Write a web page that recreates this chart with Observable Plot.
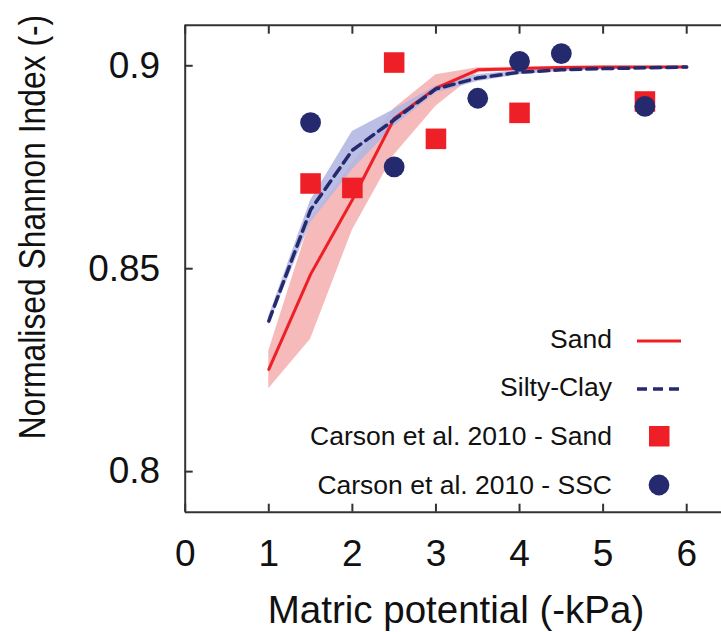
<!DOCTYPE html>
<html>
<head>
<meta charset="utf-8">
<script src="https://cdn.jsdelivr.net/npm/d3@7"></script>
<script src="https://cdn.jsdelivr.net/npm/@observablehq/plot@0.6"></script>
<style>
  html, body { margin: 0; padding: 0; background: #fff; overflow: hidden; }
  #chart { width: 721px; height: 632px; overflow: hidden; }
  #chart svg { display: block; max-width: none !important; width: 730px !important; height: 632px !important; }
</style>
</head>
<body>
<div id="chart"></div>
<script>
// ---- data ----
const potential = [1, 1.5, 2, 2.5, 3, 3.5, 4, 4.5, 5, 5.5, 6];
const sandMean  = [0.8252, 0.8486, 0.8670, 0.8870, 0.8945, 0.8990, 0.8993, 0.8996, 0.8997, 0.8997, 0.8997];
const sandLow   = [0.8204, 0.8326, 0.8595, 0.8780, 0.8900, 0.8982, 0.8990, 0.8993, 0.8994, 0.8995, 0.8995];
const sandHigh  = [0.8297, 0.8620, 0.8760, 0.8895, 0.8978, 0.8995, 0.8997, 0.8999, 0.8999, 0.8999, 0.8999];
const clayMean  = [0.8371, 0.8645, 0.8792, 0.8867, 0.8943, 0.8970, 0.8984, 0.8990, 0.8993, 0.8995, 0.8997];
const clayLow   = [0.8360, 0.8613, 0.8744, 0.8851, 0.8933, 0.8961, 0.8978, 0.8986, 0.8990, 0.8993, 0.8995];
const clayHigh  = [0.8382, 0.8668, 0.8838, 0.8892, 0.8950, 0.8978, 0.8989, 0.8993, 0.8995, 0.8997, 0.8999];

const carsonSandX = [1.5, 2, 2.5, 3, 4, 5.5];
const carsonSandY = [0.8710, 0.8699, 0.9008, 0.8820, 0.8884, 0.8912];
const carsonSscX  = [1.5, 2.5, 3.5, 4, 4.5, 5.5];
const carsonSscY  = [0.8860, 0.8751, 0.8920, 0.9011, 0.9030, 0.8900];

const xTicks = [0, 1, 2, 3, 4, 5, 6];
const yTicks = [0.8, 0.85, 0.9];
const xDomain = [0, 6.5];
const yDomain = [0.79, 0.91];

const xLabel = "Matric potential (-kPa)";
const yLabel = "Normalised Shannon Index (-)";
const legendLabels = ["Sand", "Silty-Clay", "Carson et al. 2010 - Sand", "Carson et al. 2010 - SSC"];

// ---- tables ----
const sand = potential.map((x, i) => ({x, mean: sandMean[i], lo: sandLow[i], hi: sandHigh[i]}));
const clay = potential.map((x, i) => ({x, mean: clayMean[i], lo: clayLow[i], hi: clayHigh[i]}));
const obsSand = carsonSandX.map((x, i) => ({x, y: carsonSandY[i]}));
const obsSsc = carsonSscX.map((x, i) => ({x, y: carsonSscY[i]}));

const RED = "#ee1f26";
const NAVY = "#252a6f";
const FONT = "'Liberation Sans', Arial, Helvetica, sans-serif";

const plot = Plot.plot({
  width: 730,
  height: 632,
  marginLeft: 184.7,
  marginRight: 2,
  marginTop: 24.7,
  marginBottom: 120.3,
  style: {fontFamily: FONT, background: "white", color: "#111"},
  x: {domain: xDomain},
  y: {domain: yDomain},
  marks: [
    Plot.areaY(sand, {x: "x", y1: "lo", y2: "hi", fill: "#f6b3b3", fillOpacity: 0.9}),
    Plot.areaY(clay, {x: "x", y1: "lo", y2: "hi", fill: "#b2b6e2", fillOpacity: 0.88}),
    Plot.line(sand, {x: "x", y: "mean", stroke: RED, strokeWidth: 3}),
    Plot.line(clay, {x: "x", y: "mean", stroke: NAVY, strokeWidth: 3.5, strokeDasharray: "10,6"}),
    Plot.dot(obsSand, {x: "x", y: "y", symbol: "square", r: 11.6, fill: RED, stroke: "none"}),
    Plot.dot(obsSsc, {x: "x", y: "y", symbol: "circle", r: 10.4, fill: NAVY, stroke: "none"}),
    // frame (left, top, bottom)
    Plot.ruleX([xDomain[0]], {stroke: "#333", strokeWidth: 2}),
    Plot.ruleY(yDomain, {stroke: "#333", strokeWidth: 2}),
    // axes with inward ticks
    Plot.axisX({anchor: "bottom", ticks: xTicks, tickSize: -8, tickPadding: 36, fontSize: 37,
                tickFormat: d => String(d), label: null, stroke: "#333", strokeWidth: 2, fill: "#111"}),
    Plot.axisX({anchor: "top", ticks: xTicks, tickSize: -8, tickFormat: () => "", label: null,
                stroke: "#333", strokeWidth: 2}),
    Plot.axisY({anchor: "left", ticks: yTicks, tickSize: -8, tickPadding: 33, fontSize: 37,
                tickFormat: d => String(d), label: null, stroke: "#333", strokeWidth: 2, fill: "#111"}),
    Plot.axisY({anchor: "right", ticks: yTicks, tickSize: -8, tickFormat: () => "", label: null,
                stroke: "#333", strokeWidth: 2})
  ]
});

document.getElementById("chart").appendChild(plot);

// ---- axis titles and legend ----
const svg = d3.select(plot);

svg.append("text")
  .attr("x", 456).attr("y", 623)
  .attr("text-anchor", "middle")
  .attr("font-family", FONT).attr("font-size", 38.5)
  .attr("fill", "#111")
  .text(xLabel);

svg.append("text")
  .attr("transform", "translate(45,227) rotate(-90) scale(0.86,1)")
  .attr("text-anchor", "middle")
  .attr("font-family", FONT).attr("font-size", 37)
  .attr("fill", "#111")
  .text(yLabel);

const legendY = [339, 387, 436, 485];
const lg = svg.append("g").attr("font-family", FONT).attr("font-size", 26.5).attr("fill", "#111");
legendLabels.forEach((t, i) => {
  lg.append("text").attr("x", 612).attr("y", legendY[i]).attr("dy", "0.35em")
    .attr("text-anchor", "end").text(t);
});
lg.append("line").attr("x1", 637).attr("x2", 681).attr("y1", legendY[0] + 2).attr("y2", legendY[0] + 2)
  .attr("stroke", RED).attr("stroke-width", 3);
lg.append("line").attr("x1", 637).attr("x2", 681).attr("y1", legendY[1] + 2).attr("y2", legendY[1] + 2)
  .attr("stroke", NAVY).attr("stroke-width", 3.5).attr("stroke-dasharray", "10,6");
lg.append("rect").attr("x", 649).attr("y", legendY[2] - 10).attr("width", 20.5).attr("height", 20.5)
  .attr("fill", RED);
lg.append("circle").attr("cx", 659).attr("cy", legendY[3]).attr("r", 10.4).attr("fill", NAVY);
</script>
</body>
</html>
